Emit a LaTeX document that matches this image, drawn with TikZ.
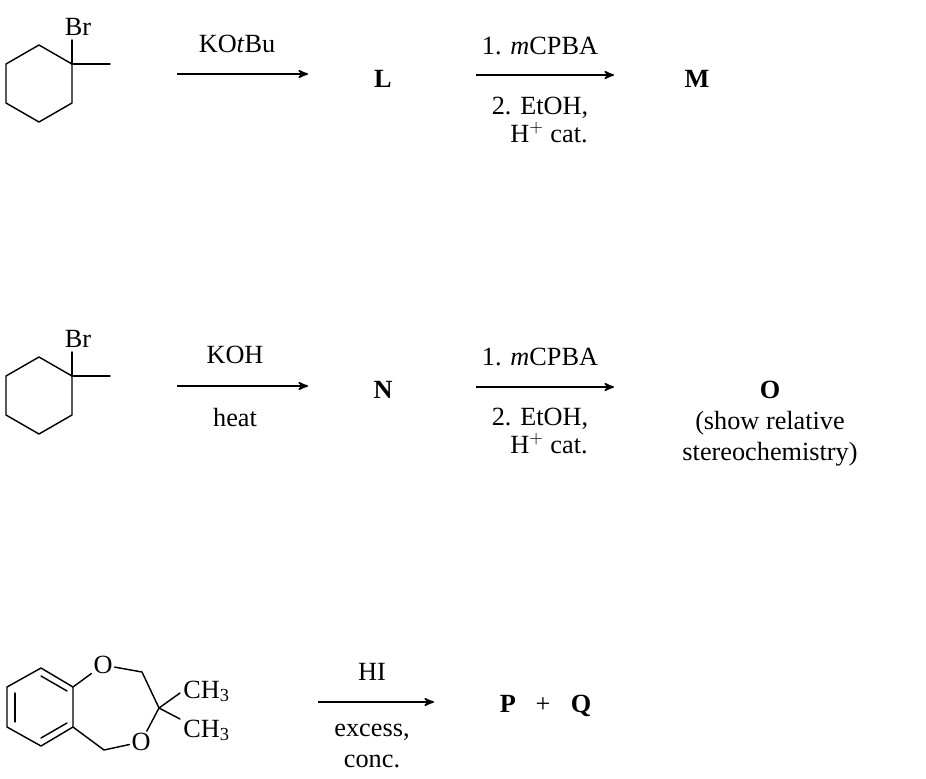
\documentclass[tikz,border=0pt]{standalone}
\usepackage{fontspec}
\setmainfont{Liberation Serif}
\usetikzlibrary{arrows, calc, positioning}
\tikzset{
	bond/.style={line width=0.82pt, line cap=round, line join=round},
	rxnarrow/.style={->, >=stealth', line width=0.95pt},
	chemlabel/.style={anchor=base, inner sep=0pt, font=\fontsize{14.95}{17}\selectfont},
	atomlabel/.style={inner sep=1pt, font=\fontsize{14.95}{17}\selectfont},
	letterlabel/.style={anchor=base, inner sep=0pt, font=\fontsize{14.95}{17}\selectfont\bfseries}
}
\begin{document}
\begin{tikzpicture}[x=0.02cm, y=-0.02cm]
		\useasboundingbox (0,0) rectangle (926,778);

		% the two bromides
		\foreach \row/\dy in {a/0, b/312}{
			\begin{scope}[yshift=-\dy*0.02cm]
				\coordinate (ring\row1) at (39,45);
				\coordinate (ring\row2) at (72,64);
				\coordinate (ring\row3) at (72,103);
				\coordinate (ring\row4) at (39,122);
				\coordinate (ring\row5) at (6,103);
				\coordinate (ring\row6) at (6,64);
				\coordinate (methyl\row) at (110,64);
				\coordinate (brend\row) at (72,40);
				\node(br\row) [atomlabel] at (78,27) {Br};
				\draw[bond] (ring\row1) -- (ring\row2) -- (ring\row3) -- (ring\row4) -- (ring\row5) -- (ring\row6) -- cycle;
				\draw[bond] (ring\row2) -- (methyl\row);
				\draw[bond] (ring\row2) -- (brend\row);
			\end{scope}
		}

		% first row
		\coordinate (a1) at (177,74);
		\coordinate (a2) at (308,74);
		\coordinate (a3) at (476,75);
		\coordinate (a4) at (614,75);
		\node(kotbu) [chemlabel] at (237,52) {KO\textit{t}Bu};
		\node(prodL) [letterlabel] at (383,87) {L};
		\node(mcpbaa) [chemlabel] at (540,54) {1. \textit{m}CPBA};
		\node(etoha) [chemlabel] at (540,114) {2. EtOH,};
		\node(cata) [chemlabel] at (549,142) {H$^{+}$ cat.};
		\node(prodM) [letterlabel] at (697,87) {M};
		\draw[rxnarrow] (a1) -- (a2);
		\draw[rxnarrow] (a3) -- (a4);

		% second row
		\coordinate (b1) at (177,386);
		\coordinate (b2) at (308,386);
		\coordinate (b3) at (476,387);
		\coordinate (b4) at (614,387);
		\node(koh) [chemlabel] at (235,363) {KOH};
		\node(heat) [chemlabel] at (235,426) {heat};
		\node(prodN) [letterlabel] at (383,398) {N};
		\node(mcpbab) [chemlabel] at (540,365) {1. \textit{m}CPBA};
		\node(etohb) [chemlabel] at (540,425) {2. EtOH,};
		\node(catb) [chemlabel] at (549,453) {H$^{+}$ cat.};
		\node(prodO) [letterlabel] at (770,398) {O};
		\node(showrel) [chemlabel] at (770,429) {(show relative};
		\node(stereo) [chemlabel] at (770,460) {stereochemistry)};
		\draw[rxnarrow] (b1) -- (b2);
		\draw[rxnarrow] (b3) -- (b4);

		% third row
		\coordinate (c1) at (41,668);
		\coordinate (c2) at (73,687);
		\coordinate (c3) at (73,727);
		\coordinate (c4) at (41,746);
		\coordinate (c5) at (7,727);
		\coordinate (c6) at (7,687);
		\coordinate (ch2a) at (142,672);
		\coordinate (cq) at (159,708);
		\coordinate (ch2b) at (104,750);
		\coordinate (tipa) at (180,693);
		\coordinate (tipb) at (180,719);
		\coordinate (da1) at (41,676);
		\coordinate (da2) at (67,691);
		\coordinate (db1) at (67,723);
		\coordinate (db2) at (41,738);
		\coordinate (dc1) at (15,693);
		\coordinate (dc2) at (15,722);
		\node(oxa) [atomlabel] at (103,665) {O};
		\node(oxb) [atomlabel] at (141,742) {O};
		\node(methyla) [chemlabel, anchor=base west] at (183,698) {CH\textsubscript{3}};
		\node(methylb) [chemlabel, anchor=base west] at (183,737) {CH\textsubscript{3}};
		\draw[bond] (c1) -- (c2) -- (c3) -- (c4) -- (c5) -- (c6) -- cycle;
		\draw[bond] (da1) -- (da2);
		\draw[bond] (db1) -- (db2);
		\draw[bond] (dc1) -- (dc2);
		\draw[bond] (c2) -- (oxa);
		\draw[bond] (oxa) -- (ch2a) -- (cq) -- (oxb);
		\draw[bond] (oxb) -- (ch2b) -- (c3);
		\draw[bond] (cq) -- (tipa);
		\draw[bond] (cq) -- (tipb);
		\coordinate (c7) at (318,702);
		\coordinate (c8) at (434,702);
		\node(hi) [chemlabel] at (372,680) {HI};
		\node(excess) [chemlabel] at (372,736) {excess,};
		\node(conc) [chemlabel] at (372,767) {conc.};
		\node(prodP) [letterlabel] at (508,712) {P};
		\node(plus) [chemlabel] at (543,712) {+};
		\node(prodQ) [letterlabel] at (581,712) {Q};
		\draw[rxnarrow] (c7) -- (c8);
		\end{tikzpicture}
\end{document}
